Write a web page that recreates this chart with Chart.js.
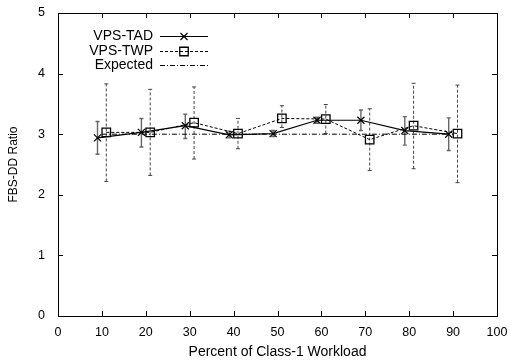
<!DOCTYPE html>
<html><head><meta charset="utf-8">
<script src="https://cdn.jsdelivr.net/npm/chart.js@4/dist/chart.umd.min.js"></script>
<style>html,body{margin:0;padding:0;background:#fff}#wrap{width:510px;height:363px}</style>
</head><body>
<div id="wrap"><canvas id="c"></canvas></div>
<script>
const xTicks = [0,10,20,30,40,50,60,70,80,90,100];
const yTicks = [0,1,2,3,4,5];
const tadX    = [9,19,29,39,49,59,69,79,89];
const tadY    = [2.94,3.03,3.14,2.99,3.01,3.23,3.23,3.06,3.00];
const tadLow  = [2.67,2.79,2.93,2.94,2.96,3.18,3.06,2.82,2.73];
const tadHigh = [3.21,3.26,3.33,3.05,3.06,3.28,3.40,3.29,3.27];
const twpX    = [11,21,31,41,51,61,71,81,91];
const twpY    = [3.03,3.03,3.19,3.01,3.26,3.25,2.91,3.14,3.01];
const twpLow  = [2.22,2.32,2.59,2.76,3.11,3.01,2.40,2.43,2.20];
const twpHigh = [3.83,3.74,3.78,3.26,3.47,3.49,3.42,3.84,3.81];
const expX    = [10,20,30,40,50,60,70,80,90];
const expY    = [3,3,3,3,3,3,3,3,3];

const FONT = "'Liberation Sans', Arial, Helvetica, sans-serif";
const pts = (xs, ys) => xs.map((x, i) => ({x, y: ys[i]}));

const errorBars = [
  {x: tadX, low: tadLow, high: tadHigh, color: '#666', width: 1.4, dash: []},
  {x: twpX, low: twpLow, high: twpHigh, color: '#444', width: 1, dash: [3, 2]}
];

const framePlugin = {
  id: 'frame',
  beforeDatasetsDraw(chart) {
    const {ctx, chartArea: a, scales: {x, y}} = chart;
    ctx.save();
    errorBars.forEach(eb => {
      ctx.strokeStyle = eb.color; ctx.lineWidth = eb.width;
      eb.x.forEach((xv, i) => {
        const px = x.getPixelForValue(xv);
        const p1 = y.getPixelForValue(eb.low[i]);
        const p2 = y.getPixelForValue(eb.high[i]);
        ctx.setLineDash(eb.dash);
        ctx.beginPath(); ctx.moveTo(px, p1); ctx.lineTo(px, p2); ctx.stroke();
        ctx.setLineDash([]);
        ctx.beginPath();
        ctx.moveTo(px - 2, p1); ctx.lineTo(px + 2, p1);
        ctx.moveTo(px - 2, p2); ctx.lineTo(px + 2, p2);
        ctx.stroke();
      });
    });
    ctx.restore();
  },
  afterDatasetsDraw(chart) {
    const {ctx, chartArea: a, scales: {x, y}} = chart;
    ctx.save();
    ctx.strokeStyle = '#000'; ctx.lineWidth = 1; ctx.setLineDash([]);
    ctx.strokeRect(Math.round(a.left) + 0.5, Math.round(a.top) + 0.5,
      Math.round(a.right - a.left), Math.round(a.bottom - a.top));
    ctx.beginPath();
    xTicks.forEach(v => {
      const px = Math.round(x.getPixelForValue(v)) + 0.5;
      ctx.moveTo(px, a.bottom); ctx.lineTo(px, a.bottom - 5);
      ctx.moveTo(px, a.top); ctx.lineTo(px, a.top + 5);
    });
    yTicks.forEach(v => {
      const py = Math.round(y.getPixelForValue(v)) + 0.5;
      ctx.moveTo(a.left, py); ctx.lineTo(a.left + 5, py);
      ctx.moveTo(a.right, py); ctx.lineTo(a.right - 5, py);
    });
    ctx.stroke();

    // legend
    const rows = chart.data.datasets;
    const textRight = 153, lx1 = 160, lx2 = 208;
    const rowY = [36, 51, 65];
    ctx.font = "14px " + FONT;
    ctx.textAlign = 'right'; ctx.textBaseline = 'middle';
    rows.forEach((ds, i) => {
      const yy = rowY[i] + 0.5;
      ctx.fillStyle = '#000';
      ctx.fillText(ds.label, textRight, yy);
      ctx.strokeStyle = '#000'; ctx.lineWidth = 1;
      ctx.setLineDash(ds.borderDash || []);
      ctx.beginPath(); ctx.moveTo(lx1, yy); ctx.lineTo(lx2, yy); ctx.stroke();
      ctx.setLineDash([]);
      if (ds.pointRadius > 0) {
        ctx.fillStyle = 'rgba(0,0,0,0)';
        ctx.lineWidth = ds.pointBorderWidth;
        Chart.helpers.drawPoint(ctx, {pointStyle: ds.pointStyle, radius: ds.pointRadius, borderWidth: ds.pointBorderWidth, rotation: 0}, (lx1 + lx2) / 2, yy);
      }
    });
    ctx.restore();
  }
};

new Chart(document.getElementById('c'), {
  type: 'line',
  data: {
    datasets: [
      {label: 'VPS-TAD', data: pts(tadX, tadY), borderColor: '#000', borderWidth: 1.2,
       pointStyle: 'crossRot', pointRadius: 5, pointBorderColor: '#000', pointBorderWidth: 1.2,
       backgroundColor: 'transparent', fill: false, tension: 0},
      {label: 'VPS-TWP', data: pts(twpX, twpY), borderColor: '#000', borderWidth: 1,
       borderDash: [3, 2], pointStyle: 'rect', pointRadius: 6, pointBorderColor: '#000',
       pointBorderWidth: 1.3, pointBackgroundColor: 'transparent', backgroundColor: 'transparent', fill: false, tension: 0},
      {label: 'Expected', data: pts(expX, expY), borderColor: '#000', borderWidth: 1,
       borderDash: [5, 2, 1, 2], pointRadius: 0, fill: false, tension: 0}
    ]
  },
  options: {
    responsive: true, maintainAspectRatio: false, animation: false,
    layout: {padding: {top: 13, right: 13, left: 0, bottom: 0}},
    plugins: {legend: {display: false}, tooltip: {enabled: false}},
    scales: {
      x: {type: 'linear', min: 0, max: 100,
        afterFit(s) { s.height = 47; s.paddingLeft = 0; s.paddingRight = 0; },
        afterBuildTicks(s) { s.ticks = xTicks.map(v => ({value: v})); },
        grid: {display: false, drawTicks: false}, border: {display: false},
        ticks: {padding: 9, color: '#000', maxRotation: 0, autoSkip: false, font: {family: FONT, size: 12.5}},
        title: {display: true, text: 'Percent of Class-1 Workload', color: '#000',
          font: {family: FONT, size: 14}, padding: {top: 0, bottom: 2}}
      },
      y: {min: 0, max: 5,
        afterFit(s) { s.width = 58; s.paddingTop = 0; s.paddingBottom = 0; },
        afterBuildTicks(s) { s.ticks = yTicks.map(v => ({value: v})); },
        grid: {display: false, drawTicks: false}, border: {display: false},
        ticks: {padding: 13, color: '#000', font: {family: FONT, size: 12.5}},
        title: {display: true, text: 'FBS-DD Ratio', color: '#000',
          font: {family: FONT, size: 12}, padding: {top: 6, bottom: 0}}
      }
    }
  },
  plugins: [framePlugin]
});
</script>
</body></html>
